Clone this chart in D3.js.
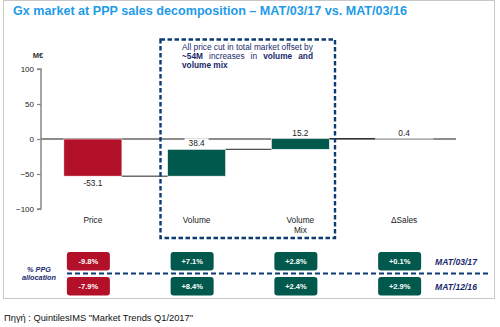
<!DOCTYPE html>
<html><head><meta charset="utf-8">
<script src="https://cdn.jsdelivr.net/npm/d3@7"></script>
<style>
html,body{margin:0;padding:0;background:#fff;}
svg{display:block;font-family:Arial,"Liberation Sans",sans-serif;}
</style></head>
<body><svg id="c" width="500" height="327"></svg>
<script>
const categories = ["Price", "Volume", "Volume\nMix", "ΔSales"];
const values = [-53.1, 38.4, 15.2, 0.4];
const isTotal = [false, false, false, true];
const yTicks = [100, 50, 0, -50, -100];
const rowLabels = ["MAT/03/17", "MAT/12/16"];
const ppgRow1 = ["-9.8%", "+7.1%", "+2.8%", "+0.1%"];
const ppgRow2 = ["-7.9%", "+8.4%", "+2.4%", "+2.9%"];

const RED = "#b3102a", TEAL = "#00594c", NAVY = "#0d3b73", TXT = "#1a2a6c";
const svg = d3.select("#c");

// frame
svg.append("rect").attr("x", 3.5).attr("y", 0.5).attr("width", 491).attr("height", 298)
  .attr("fill", "none").attr("stroke", "#c8c8c8");

svg.append("text").attr("x", 13).attr("y", 15).attr("fill", "#1e9be9")
  .attr("font-weight", "bold").attr("font-size", 12.6)
  .text("Gx market at PPP sales decomposition – MAT/03/17 vs. MAT/03/16");

const x = d3.scaleBand().domain(categories).range([41, 456]).paddingInner(0.44).paddingOuter(0.22);
const y = d3.scaleLinear().domain([-100, 100]).range([209, 69]);

// waterfall computation
let run = 0;
const bars = categories.map((c, i) => {
  let start, end;
  if (isTotal[i]) { start = 0; end = values[i]; }
  else { start = run; end = run + values[i]; }
  run = end;
  return { c, v: values[i], start, end, color: values[i] < 0 ? RED : TEAL };
});

// y axis
const yAxis = d3.axisLeft(y).tickValues(yTicks).tickSize(4).tickPadding(3);
const ga = svg.append("g").attr("transform", "translate(41,0)").call(yAxis);
ga.select(".domain").attr("stroke", "#888").attr("stroke-width", 1.5).attr("d", `M-4,${y(100)}H0V${y(-100)}H-4`);
ga.selectAll(".tick line").attr("stroke", "#888").attr("stroke-width", 1.2);
ga.selectAll(".tick text").attr("font-size", 8).attr("fill", "#222").attr("font-family", "Arial,'Liberation Sans',sans-serif");
svg.append("text").attr("x", 38).attr("y", 58).attr("text-anchor", "middle")
  .attr("font-size", 7.5).attr("font-weight", "bold").attr("fill", "#333").text("M€");

// zero line
svg.append("line").attr("x1", 41).attr("x2", 456).attr("y1", y(0)).attr("y2", y(0))
  .attr("stroke", "#8c8c8c").attr("stroke-width", 2);

// bars
svg.selectAll("rect.bar").data(bars).join("rect").attr("class", "bar")
  .attr("x", d => x(d.c)).attr("width", x.bandwidth())
  .attr("y", d => y(Math.max(d.start, d.end)))
  .attr("height", d => Math.abs(y(d.start) - y(d.end)))
  .attr("fill", d => d.color).attr("stroke", "#fff").attr("stroke-width", 0.6);

// connectors
for (let i = 0; i < bars.length - 1; i++) {
  svg.append("line")
    .attr("x1", x(bars[i].c) + x.bandwidth()).attr("x2", x(bars[i + 1].c))
    .attr("y1", y(bars[i].end)).attr("y2", y(bars[i].end))
    .attr("stroke", "#222").attr("stroke-width", 1);
}

// value labels
bars.forEach(d => {
  const cx = x(d.c) + x.bandwidth() / 2;
  const top = y(Math.max(d.start, d.end));
  const bot = y(Math.min(d.start, d.end));
  let ty;
  if (d.v < 0) ty = bot + 9.5;
  else ty = top - 3;
  if (d.c === "Volume") {
    svg.append("rect").attr("x", cx - 12).attr("y", ty - 8).attr("width", 24).attr("height", 10).attr("fill", "#fff");
  }
  svg.append("text").attr("x", cx).attr("y", ty).attr("text-anchor", "middle")
    .attr("font-size", 8.3).attr("fill", "#222").text(d.v.toFixed(1));
});

// category labels
categories.forEach(c => {
  const lines = c.split("\n");
  lines.forEach((l, k) => {
    svg.append("text").attr("x", x(c) + x.bandwidth() / 2).attr("y", 223 + k * 10)
      .attr("text-anchor", "middle").attr("font-size", 8.3).attr("fill", "#222").text(l);
  });
});

// dashed highlight box
svg.append("rect").attr("x", 160.5).attr("y", 39.5).attr("width", 174.5).attr("height", 198.5)
  .attr("fill", "none").attr("stroke", NAVY).attr("stroke-width", 2.4).attr("stroke-dasharray", "4.5,2.5");

// box text (justified)
const boxLines = [
  [{ t: "All price cut in total market offset by", b: false }],
  [{ t: "~54M", b: true }, { t: "increases", b: false }, { t: "in", b: false }, { t: "volume", b: true }, { t: "and", b: true }],
  [{ t: "volume mix", b: true }]
];
const bx0 = 182, bx1 = 313;
boxLines.forEach((words, li) => {
  const yy = 50 + li * 9;
  const nodes = words.map(w => svg.append("text").attr("y", yy).attr("font-size", 8.3)
    .attr("fill", TXT).attr("font-weight", w.b ? "bold" : "normal").text(w.t));
  if (words.length === 1) { nodes[0].attr("x", bx0); return; }
  const widths = nodes.map(n => n.node().getComputedTextLength());
  const total = d3.sum(widths);
  const gap = (bx1 - bx0 - total) / (words.length - 1);
  let cx = bx0;
  nodes.forEach((n, k) => { n.attr("x", cx); cx += widths[k] + gap; });
});

// PPG allocation section
svg.append("line").attr("x1", 67).attr("x2", 488).attr("y1", 273.5).attr("y2", 273.5)
  .attr("stroke", NAVY).attr("stroke-width", 2).attr("stroke-dasharray", "5,3");
svg.append("text").attr("x", 39).attr("y", 272).attr("text-anchor", "middle")
  .attr("font-size", 7.3).attr("font-weight", "bold").attr("font-style", "italic").attr("fill", TXT).text("% PPG");
svg.append("text").attr("x", 39).attr("y", 280).attr("text-anchor", "middle")
  .attr("font-size", 7.3).attr("font-weight", "bold").attr("font-style", "italic").attr("fill", TXT).text("allocation");

const rows = [ppgRow1, ppgRow2];
const rowY = [252, 277];
rows.forEach((row, r) => {
  row.forEach((v, i) => {
    const cx = x(categories[i]) + x.bandwidth() / 2 - 4.5;
    svg.append("rect").attr("x", cx - 21.5).attr("y", rowY[r]).attr("width", 43).attr("height", 18.5)
      .attr("rx", 3).attr("fill", v.startsWith("-") ? RED : TEAL);
    svg.append("text").attr("x", cx).attr("y", rowY[r] + 12).attr("text-anchor", "middle")
      .attr("font-size", 7.5).attr("font-weight", "bold").attr("fill", "#fff").text(v);
  });
  svg.append("text").attr("x", 456).attr("y", rowY[r] + 12.5).attr("text-anchor", "middle")
    .attr("font-size", 8.6).attr("font-weight", "bold").attr("font-style", "italic").attr("fill", TXT).text(rowLabels[r]);
});

// source
svg.append("text").attr("x", 4).attr("y", 321).attr("font-size", 9.3).attr("fill", "#111")
  .text("Πηγή : QuintilesIMS \"Market Trends Q1/2017\"");
</script></body></html>
